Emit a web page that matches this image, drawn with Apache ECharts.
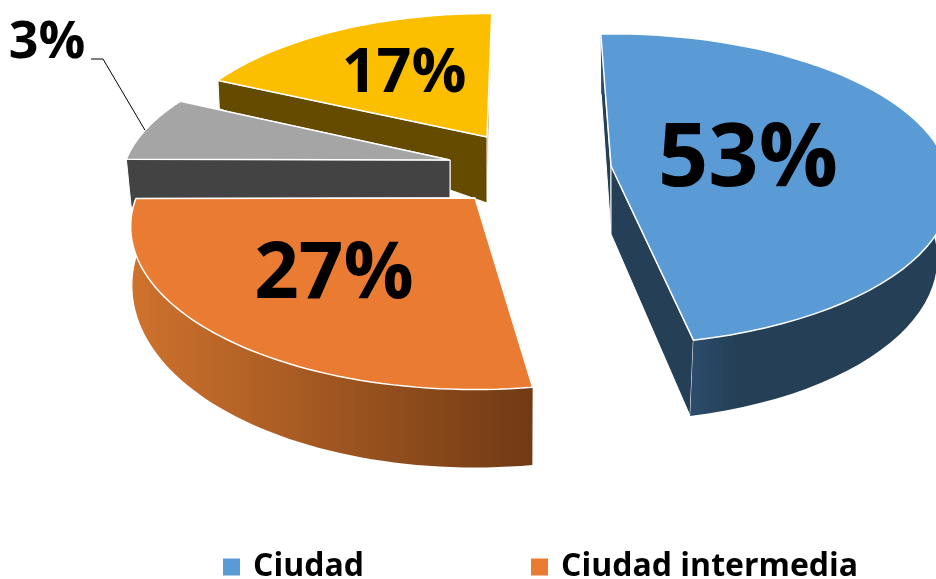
<!DOCTYPE html>
<html>
<head>
<meta charset="utf-8">
<style>
  html, body { margin: 0; padding: 0; background: #fff; }
  #chart { width: 936px; height: 579px; }
</style>
<script src="https://cdn.jsdelivr.net/npm/echarts@6/dist/echarts.min.js"></script>
</head>
<body>
<div id="chart"></div>
<script>
// 各扇区：名称、图上标注的百分比、实际画出来的份额（标注和扇区大小并不一致，所以分开放）
const categories = ['Ciudad', 'Ciudad intermedia', 'Otros 1', 'Otros 2']
const percentLabels = [53, 27, 3, 17]
const sliceShares = [47.2, 27.2, 7.2, 18.4]
const legendNames = ['Ciudad', 'Ciudad intermedia']

const topColors = ['#5b9bd5', '#ea7b32', '#a5a5a5', '#fbbf00']
const wallColors = ['#243f56', '#6e3a14', '#434343', '#654b00']

// 3D 外观参数，每个扇区一份
const START_ANGLE = 2
const looks = [
  { ax: 611, ay: 166, rx: 336, ry: 152, k: 0.15, sx: 0.96, depth: 68, slope: 8, turn: -4, fs: 88, lx: 748, ly: 161, z: 2,
    rim: [[0, '#2c4c6b'], [0.2, '#243f56'], [1, '#243f56']], rimX: [690, 936] },
  { ax: 475, ay: 198, rx: 339, ry: 158, k: 0.175, sx: 0.995, depth: 55, slope: 23, turn: 0, fs: 78, lx: 334, ly: 276, z: 5,
    rim: [[0, '#cf722d'], [1, '#703a14']], rimX: [132, 533] },
  { ax: 450, ay: 160, rx: 324, ry: 143, k: 0.175, sx: 0.985, depth: 48, slope: 0, turn: 0.5, fs: 52, lx: 47, ly: 43, z: 4 },
  { ax: 487, ay: 137, rx: 318, ry: 145, k: 0.175, sx: 0.995, depth: 66, slope: 90, turn: -1, fs: 61, lx: 404, ly: 75, z: 3 }
]
const leader = [[91, 59], [103, 59]]

const toPoints = (look, theta) => {
  const rad = theta * Math.PI / 180
  const u = Math.sin(rad)
  const v = -Math.cos(rad)
  const s = 1 / (1 - look.k * v)
  const dx = look.rx * u * s
  const dy = look.ry * v * s
  const h = Math.max(0, look.depth + look.slope * v)
  return {
    v,
    top: [look.ax + dx, look.ay + dy],
    bottom: [look.ax + look.sx * dx, look.ay + h + dy]
  }
}

const total = sliceShares.reduce((a, b) => a + b, 0)

const renderSlice = (index) => {
  const look = looks[index]
  const before = sliceShares.slice(0, index).reduce((a, b) => a + b, 0)
  const from = START_ANGLE + look.turn + before / total * 360
  const to = from + sliceShares[index] / total * 360

  const steps = 60
  const arc = []
  for (let i = 0; i <= steps; i++) {
    arc.push(toPoints(look, from + (to - from) * i / steps))
  }
  const apex = [look.ax, look.ay]
  const apexBottom = [look.ax, look.ay + look.depth]
  const first = arc[0]
  const last = arc[steps]
  const edge = { stroke: '#fff', lineWidth: 1, lineJoin: 'bevel' }
  const children = []

  // 两个切面，靠后的先画
  const wall = (p) => ({
    type: 'polygon',
    shape: { points: [apex, apexBottom, p.bottom, p.top] },
    style: { fill: wallColors[index], ...edge }
  })
  const walls = first.v < last.v ? [first, last] : [last, first]
  children.push(wall(walls[0]), wall(walls[1]))

  // 外弧面
  if (look.rim) {
    const points = arc.map(p => p.top).concat(arc.map(p => p.bottom).reverse())
    children.push({
      type: 'polygon',
      shape: { points },
      style: {
        fill: {
          type: 'linear', global: true,
          x: look.rimX[0], y: 0, x2: look.rimX[1], y2: 0,
          colorStops: look.rim.map(([offset, color]) => ({ offset, color }))
        }
      }
    })
  }

  // 顶面
  children.push({
    type: 'polygon',
    shape: { points: [apex].concat(arc.map(p => p.top)) },
    style: { fill: topColors[index], stroke: '#fff', lineWidth: 1.5, lineJoin: 'bevel' }
  })

  // 3% 的引导线，终点在扇区外弧中点
  if (percentLabels[index] === 3) {
    children.push({
      type: 'polyline',
      shape: { points: leader.concat([arc[Math.round(steps * 0.46)].top]) },
      style: { fill: null, stroke: '#000', lineWidth: 1 }
    })
  }

  children.push({
    type: 'text',
    style: {
      text: percentLabels[index] + '%',
      x: look.lx,
      y: look.ly,
      align: 'center',
      verticalAlign: 'middle',
      fill: '#000',
      font: 'bold ' + look.fs + 'px "Open Sans"'
    }
  })
  return { type: 'group', children }
}

const chartInstance = echarts.init(document.getElementById('chart'))

const option = {
  animation: false,
  backgroundColor: '#fff',
  legend: {
    data: legendNames,
    left: 218,
    top: 546,
    icon: 'rect',
    itemWidth: 17,
    itemHeight: 17,
    itemGap: 167,
    selectedMode: false,
    textStyle: { fontFamily: 'Open Sans', fontWeight: 'bold', fontSize: 32, color: '#000', padding: [0, 0, 0, 8] }
  },
  tooltip: { show: false },
  series: categories.map((name, index) => ({
    name,
    type: 'custom',
    coordinateSystem: 'none',
    silent: true,
    z: looks[index].z,
    itemStyle: { color: topColors[index] },
    data: [sliceShares[index]],
    renderItem: () => renderSlice(index)
  }))
}
chartInstance.setOption(option)
</script>
</body>
</html>
